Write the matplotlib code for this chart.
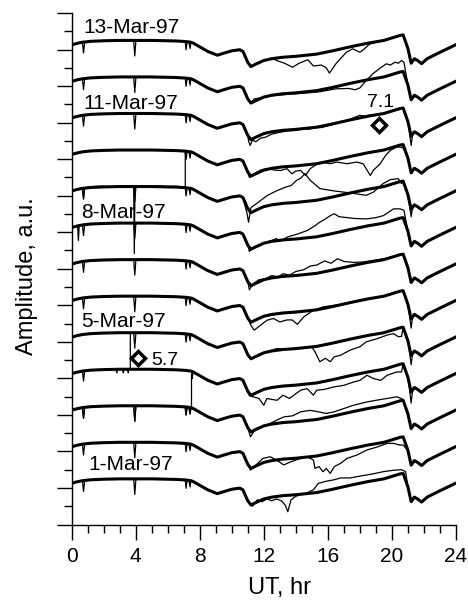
import matplotlib.pyplot as plt
from matplotlib.ticker import MultipleLocator
import numpy as np

plt.rcParams['font.family'] = ['Liberation Sans', 'DejaVu Sans']

# day number -> label (only some rows are labelled)
days = list(range(1, 14))
day_labels = {13: '13-Mar-97', 11: '11-Mar-97', 8: '8-Mar-97', 5: '5-Mar-97', 1: '1-Mar-97'}
label_hr = {13: 0.72, 11: 0.72, 8: 0.6, 5: 0.6, 1: 1.05}
label_amp = {13: 27.2, 11: 23.05, 8: 17.09, 5: 11.13, 1: 3.31}

# mean daily curve (thick line), amplitude relative to the day's baseline
mean_hr = [0.0, 0.3, 0.68, 1.2, 2.0, 3.0, 5.0, 6.5, 7.1, 7.45, 7.6, 8.0, 8.5, 9.1, 9.5, 10.0,
           10.5, 10.7, 11.0, 11.2, 11.5, 12.0, 12.5, 13.2, 14.0, 15.3, 16.3, 17.4, 18.5, 19.5,
           20.5, 20.7, 21.0, 21.2, 21.4, 21.6, 21.85, 22.2, 23.0, 24.0]
mean_amp = [-0.1, -0.02, 0.05, 0.1, 0.13, 0.15, 0.15, 0.12, 0.09, 0.05, 0.0, -0.2, -0.45, -0.66, -0.55, -0.42,
            -0.36, -0.45, -1.05, -1.28, -1.15, -0.95, -0.85, -0.77, -0.72, -0.6, -0.42, -0.2, 0.0, 0.15,
            0.42, 0.45, -0.3, -1.1, -0.85, -0.95, -1.12, -0.85, -0.5, -0.08]

# narrow spikes seen every day in the observed signal (hour, depth)
spike_hr = [0.75, 3.95, 7.15, 7.4]
spike_depth = [0.6, 0.85, 0.45, 0.35]

# observed curves (thin line): pieces that differ from the mean, relative to the day's baseline
obs = {
    13: [([12.6, 12.8, 13.3, 13.8, 14.2, 14.75, 15.1, 15.6, 15.9, 16.1, 16.5, 17.15, 17.55, 18.0, 18.3, 18.6],
          [-0.85, -0.95, -1.1, -1.32, -1.1, -0.91, -1.25, -1.2, -1.35, -1.64, -1.13, -0.5, -0.31, -0.5, -0.3, -0.05])],
    12: [([11.4, 12.0, 12.5, 13.5, 14.5, 15.5, 16.5, 17.3, 17.7, 18.0, 18.3, 18.8, 19.2, 19.65, 19.9, 20.2,
           20.4, 20.6, 20.75],
          [-1.05, -0.97, -0.88, -0.8, -0.74, -0.66, -0.5, -0.48, -0.55, -0.45, -0.14, 0.32, 0.59, 0.87, 0.8, 0.96,
           0.9, 1.05, 0.95])],
    11: [([11.05, 11.15, 11.3, 11.5, 11.8, 12.1, 12.5, 13.0, 13.5, 14.0, 14.5, 14.8, 15.2, 15.6, 16.2, 16.8,
           17.3, 17.7, 18.0, 18.3, 18.7],
          [-1.35, -1.6, -1.3, -1.4, -1.2, -1.15, -0.98, -0.88, -0.8, -0.78, -0.66, -0.72, -0.62, -0.62, -0.48, -0.3,
           -0.2, -0.05, 0.05, 0.0, 0.07]),
         ([21.05, 21.2, 21.3], [-0.6, -1.6, -0.9])],
    10: [([0.0, 0.4, 0.68, 0.75, 0.82, 1.3, 1.9, 2.5, 3.1, 3.6, 3.88, 3.92, 3.96, 4.5, 5.0, 5.5, 6.0, 6.6,
           7.0, 7.1, 7.1],
          [-2.1, -1.97, -1.93, -2.5, -1.92, -1.85, -1.83, -1.86, -1.8, -1.84, -1.83, -5.52, -1.83, -1.8, -1.86,
           -1.81, -1.85, -1.83, -1.9, -1.93, 0.05]),
         ([11.1, 11.4, 11.8, 12.2, 12.7, 13.05, 13.45, 13.75, 14.0, 14.3, 14.6, 14.9, 15.2, 15.6, 16.15, 16.55,
           17.2, 17.8, 18.2, 18.65, 18.85, 19.27, 19.6, 19.9, 20.3, 20.55, 20.7],
          [-1.35, -1.15, -0.95, -0.87, -0.95, -0.97, -0.87, -1.15, -1.0, -0.97, -1.24, -0.87, -0.69, -0.51, -0.6, -0.51,
           -0.6, -0.51, -0.6, -1.24, -0.95, -0.6, -0.15, 0.13, 0.31, 0.31, 0.25])],
    9: [([10.95, 11.05, 11.2, 11.6, 12.2, 12.8, 13.4, 13.7, 14.05, 14.3, 14.58, 14.9, 15.5, 16.4, 17.4,
          18.4, 18.85, 19.45, 19.9, 20.4, 20.6],
         [-1.3, -1.8, -1.0, -0.75, -0.35, -0.08, 0.13, 0.2, 0.49, 0.6, 0.86, 0.49, 0.04, -0.09, -0.2,
          -0.33, -0.15, 0.31, 0.53, 0.58, 0.31]),
        ([21.05, 21.2, 21.3], [-0.6, -1.5, -0.9])],
    8: [([0.38, 0.43, 0.48], [-0.02, -0.8, 0.0]),
        ([11.1, 11.4, 12.0, 12.5, 12.8, 13.0, 13.45, 14.1, 14.7, 15.1, 15.5, 15.8, 16.15, 16.4, 16.7, 17.0,
          17.7, 18.44, 19.0, 19.47, 19.8, 20.1, 20.5, 20.75],
         [-1.4, -1.15, -0.95, -0.8, -0.7, -0.85, -0.62, -0.45, -0.26, -0.05, 0.2, 0.35, 0.56, 0.66, 0.5, 0.47,
          0.4, 0.38, 0.45, 0.56, 0.75, 0.93, 0.93, 0.85])],
    7: [([11.1, 11.3, 11.7, 12.1, 12.5, 12.9, 13.2, 13.6, 14.0, 14.5, 14.9, 15.3, 15.8, 16.2, 16.6, 17.0,
          17.6, 18.2, 18.8, 19.5, 20.0, 20.5],
         [-1.5, -1.2, -0.95, -0.9, -0.72, -0.8, -0.62, -0.7, -0.5, -0.4, -0.2, -0.15, 0.08, -0.05, 0.2, 0.05,
          0.0, 0.02, 0.1, 0.2, 0.3, 0.4])],
    6: [([11.2, 11.4, 11.8, 12.2, 12.6, 13.0, 13.45, 13.77, 14.1, 14.5, 15.1, 15.7, 16.4, 17.0, 17.5, 18.0],
         [-1.45, -1.71, -1.44, -1.17, -1.07, -1.26, -1.15, -1.15, -1.39, -0.98, -0.62, -0.44, -0.35, -0.3, -0.2, -0.05]),
        ([21.05, 21.2, 21.3], [-0.6, -1.6, -0.9])],
    5: [([0.0, 0.68, 0.75, 0.82, 1.5, 2.4, 2.78, 2.83, 2.88, 3.18, 3.23, 3.28, 3.49, 3.54, 3.59, 3.67, 3.67],
         [-2.1, -1.95, -2.5, -1.94, -1.87, -1.86, -1.86, -2.05, -1.86, -1.86, -2.05, -1.86, -1.86, -2.05, -1.86,
          -1.85, 0.15]),
        ([11.2, 12.2, 12.8, 13.4, 14.3, 15.0, 15.2, 15.5, 15.85, 16.15, 16.4, 16.8, 17.4, 18.0, 18.4, 19.1,
          19.7, 20.1, 20.4, 20.6],
         [-1.3, -0.9, -0.72, -0.75, -0.68, -0.62, -0.9, -1.44, -1.25, -1.44, -1.17, -1.08, -0.8, -0.62, -0.35, -0.17,
          0.02, 0.1, -0.07, -0.05]),
        ([21.05, 21.2, 21.3], [-0.6, -1.6, -0.9])],
    4: [([0.0, 0.68, 0.75, 0.82, 1.5, 3.0, 3.88, 3.95, 4.02, 5.5, 7.0, 7.08, 7.15, 7.22, 7.33, 7.4, 7.46,
          7.49, 7.49, 7.53, 7.58],
         [-2.1, -1.95, -2.5, -1.94, -1.88, -1.85, -1.85, -2.7, -1.85, -1.86, -1.9, -1.91, -2.35, -1.92, -1.94,
          -2.3, -1.95, -1.95, -0.1, -0.35, -0.02]),
        ([11.1, 11.38, 11.7, 12.0, 12.2, 12.5, 12.83, 13.2, 13.6, 14.3, 14.7, 15.1, 15.3, 15.8, 16.36, 17.0,
          17.6, 18.0, 18.44, 18.85, 19.3, 19.7, 20.3, 20.6],
         [-1.3, -1.37, -1.45, -1.82, -1.45, -1.5, -1.55, -1.27, -1.45, -1.0, -0.91, -1.27, -1.0, -0.95, -0.82, -0.73,
          -0.55, -0.46, -0.18, -0.36, -0.46, -0.18, 0.0, 0.0]),
        ([21.05, 21.2, 21.3], [-0.6, -1.7, -0.9])],
    3: [([11.17, 11.5, 12.2, 12.8, 13.25, 13.8, 14.3, 14.9, 15.4, 15.9, 16.4, 17.0, 17.6, 18.44, 19.0, 19.7,
          20.3, 20.6],
         [-1.55, -1.1, -0.91, -0.64, -0.46, -0.4, -0.18, -0.1, -0.18, -0.27, -0.18, 0.0, 0.18, 0.36, 0.45, 0.55,
          0.64, 0.55])],
    2: [([11.17, 11.5, 11.95, 12.4, 12.8, 13.25, 13.7, 14.3, 14.7, 15.1, 15.2, 15.45, 15.7, 15.9, 16.15, 16.4,
          16.8, 17.2, 17.8, 18.44, 19.1, 19.7, 20.1, 20.5, 20.7],
         [-1.37, -1.1, -0.73, -0.64, -0.82, -1.09, -0.91, -0.73, -0.64, -0.82, -1.28, -1.18, -1.46, -1.28, -1.55, -1.18,
          -1.0, -0.73, -0.55, -0.27, -0.1, 0.09, 0.09, 0.0, 0.0])],
    1: [([11.1, 11.3, 11.6, 11.9, 12.2, 12.5, 12.8, 13.1, 13.35, 13.5, 13.7, 14.0, 14.6, 15.1, 15.4, 15.9,
          16.4, 16.8, 17.4, 18.0, 18.8, 19.5, 20.1, 20.6, 20.85],
         [-1.2, -1.35, -1.0, -1.1, -0.95, -1.05, -0.95, -1.05, -1.3, -1.65, -1.0, -0.8, -0.65, -0.45, -0.1, 0.02,
          0.1, 0.2, 0.2, 0.3, 0.42, 0.55, 0.62, 0.65, 0.55])],
}

# earthquake markers
eq_hr = [4.17, 19.21]
eq_amp = [9.14, 21.88]
eq_mag = ['5.7', '7.1']
eq_text_hr = [4.95, 18.42]
eq_text_amp = [8.99, 23.12]

first_base = 2.35
day_step = 2.0


def observed(pieces):
    hr = np.array(mean_hr)
    amp = np.array(mean_amp)
    # spikes: a narrow V at each spike hour, on top of the mean level
    sh = np.array(spike_hr)
    lvl = np.interp(sh, hr, amp)
    spk_h = np.concatenate([sh - 0.07, sh, sh + 0.07])
    spk_a = np.concatenate([lvl, lvl - np.array(spike_depth), lvl])
    hr = np.concatenate([hr, spk_h])
    amp = np.concatenate([amp, spk_a])
    order = np.argsort(hr, kind='stable')
    hr, amp = hr[order], amp[order]
    for ph, pa in pieces:
        keep = (hr < ph[0]) | (hr > ph[-1])
        hr = np.concatenate([hr[keep], ph])
        amp = np.concatenate([amp[keep], pa])
        order = np.argsort(hr, kind='stable')
        hr, amp = hr[order], amp[order]
    return hr, amp


fig = plt.figure(figsize=(4.68, 6.08), dpi=100)
ax = fig.add_axes([0.1528, 0.1373, 0.8216, 0.8413])

for d in days:
    base = first_base + day_step * (d - 1)
    hr, amp = observed(obs.get(d, []))
    ax.plot(hr, amp + base, color='black', lw=0.9, zorder=2)
    ax.plot(mean_hr, np.array(mean_amp) + base, color='black', lw=2.2, zorder=3,
            solid_joinstyle='round')
    if d in day_labels:
        ax.text(label_hr[d], label_amp[d], day_labels[d], fontsize=15, ha='left', va='center')

ax.plot(eq_hr, eq_amp, ls='none', marker='D', ms=7.5, mfc='white', mec='black', mew=2.5, zorder=5)
for x, y, t in zip(eq_text_hr, eq_text_amp, eq_mag):
    ax.text(x, y, t, fontsize=14, ha='left', va='center')

ax.set_xlim(0, 24)
ax.set_ylim(0, 28)
ax.xaxis.set_major_locator(MultipleLocator(4))
ax.xaxis.set_minor_locator(MultipleLocator(1))
ax.yaxis.set_major_locator(MultipleLocator(2))
ax.yaxis.set_minor_locator(MultipleLocator(1))
ax.tick_params(which='major', direction='out', length=11, width=1.0, labelsize=15, pad=5)
ax.tick_params(which='minor', direction='out', length=6, width=1.0)
ax.tick_params(axis='y', labelleft=False)
ax.spines['top'].set_visible(False)
ax.spines['right'].set_visible(False)
ax.spines['left'].set_linewidth(1.0)
ax.spines['bottom'].set_linewidth(1.0)

fig.text(279.5 / 468, 1 - 588 / 608, 'UT, hr', fontsize=17, ha='center', va='center')
fig.text(27 / 468, 1 - 276 / 608, 'Amplitude, a.u.', fontsize=17, ha='center', va='center',
         rotation=90)

fig.savefig('out.png', dpi=100)
